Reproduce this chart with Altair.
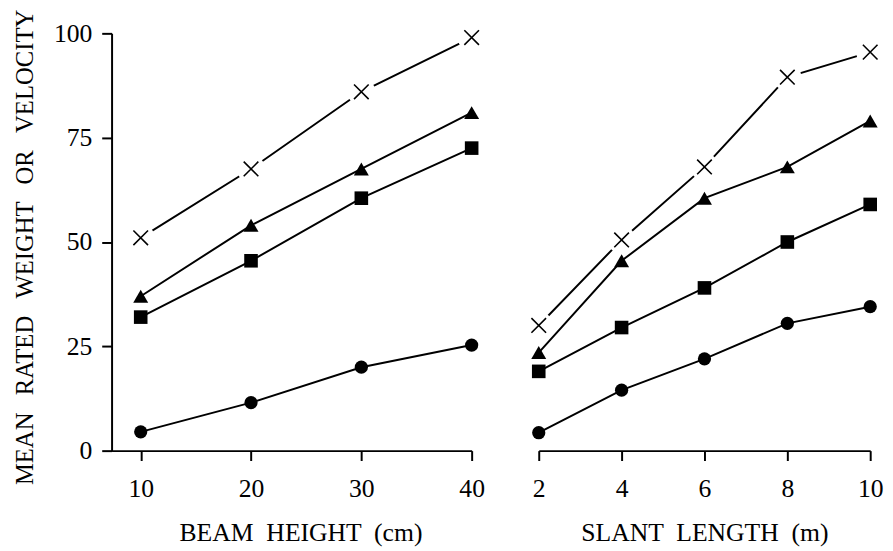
import altair as alt
import pandas as pd

# ---- data ----
beam = [10, 20, 30, 40]
beam_cross = [51, 67.5, 86, 99]
beam_tri = [37, 54, 67.5, 81]
beam_sq = [32, 45.5, 60.5, 72.5]
beam_circ = [4.5, 11.5, 20, 25.3]

slant = [2, 4, 6, 8, 10]
slant_cross = [30, 50.5, 68, 89.5, 95.5]
slant_tri = [23.5, 45.5, 60.5, 68, 79]
slant_sq = [19, 29.5, 39, 50, 59]
slant_circ = [4.3, 14.5, 22, 30.5, 34.5]

y_ticks = [0, 25, 50, 75, 100]

FONT = "Liberation Serif"
SP = " \u00a0"
SPY = " \u00a0\u2009"


def frame(xs, ys):
    return pd.DataFrame({"x": xs, "v": ys})


X_PATH = "M-1,-1L1,1M-1,1L1,-1"


def panel(xs, cross, tri, sq, circ, xdomain, xticks, xtitle, title_x, show_y, width):
    xenc = alt.X(
        "x:Q",
        scale=alt.Scale(domain=xdomain, nice=False, zero=False),
        axis=alt.Axis(values=xticks, title=xtitle, titleX=title_x, titleY=91, labelFlush=False,
                      labelPadding=15,
                      titleBaseline="alphabetic", titleAlign="center", titleAnchor="start"),
    )
    if show_y:
        yaxis = alt.Axis(values=y_ticks,
                         title="MEAN" + SPY + "RATED" + SPY + "WEIGHT" + SPY + "OR" + SPY + "VELOCITY",
                         titleX=-80, titleY=216.5, titleAngle=270, titleBaseline="alphabetic",
                         titleFontSize=25,
                         titleAlign="center", titleAnchor="start", labelFlush=False)
    else:
        yaxis = None
    yenc = alt.Y("v:Q", scale=alt.Scale(domain=[0, 100], nice=False), axis=yaxis)

    layers = []
    first = True
    for ys, shp, sz in [(tri, "triangle-up", 230), (sq, "square", 190), (circ, "circle", 180)]:
        d = frame(xs, ys)
        if first:
            enc = dict(x=xenc, y=yenc)
            first = False
        else:
            enc = dict(x="x:Q", y="v:Q")
        layers.append(alt.Chart(d).mark_line(color="black", strokeWidth=2).encode(**enc))
        layers.append(alt.Chart(d).mark_point(shape=shp, filled=True, color="black", opacity=1, size=sz)
                      .encode(x="x:Q", y="v:Q"))
    dc = frame(xs, cross)
    layers.append(alt.Chart(dc).mark_line(color="black", strokeWidth=2).encode(x="x:Q", y="v:Q"))
    layers.append(alt.Chart(dc).mark_point(shape="circle", filled=True, fill="white", color="white",
                                           opacity=1, fillOpacity=1, size=800)
                  .encode(x="x:Q", y="v:Q"))
    layers.append(alt.Chart(dc).mark_point(shape=X_PATH, filled=False, color="black", opacity=1,
                                           strokeWidth=1.6, size=220).encode(x="x:Q", y="v:Q"))
    return alt.layer(*layers).properties(width=width, height=423)


left = panel(beam, beam_cross, beam_tri, beam_sq, beam_circ, [7.36, 40], beam,
             "BEAM" + SP + "HEIGHT" + SP + "(cm)", 191.5, True, 365)
right = panel(slant, slant_cross, slant_tri, slant_sq, slant_circ, [2, 10], slant,
              "SLANT" + SP + "LENGTH" + SP + "(m)", 168, False, 336)

chart = (
    alt.hconcat(left, right, spacing=68)
    .resolve_scale(x="independent")
    .properties(padding={"left": 4, "top": -3, "right": 0, "bottom": 0}, bounds="flush",
                background="white")
    .configure_view(stroke=None)
    .configure_axis(
        grid=False, domainColor="black", domainWidth=2, tickColor="black", tickWidth=2, tickSize=10,
        labelFont=FONT, labelFontSize=26, labelColor="black", labelPadding=12,
        titleFont=FONT, titleFontSize=26, titleFontWeight="normal", titleColor="black",
    )
    .configure_axisLeft(labelPadding=10)
)

chart.save("out.html", embed_options={"renderer": "svg", "actions": False})
